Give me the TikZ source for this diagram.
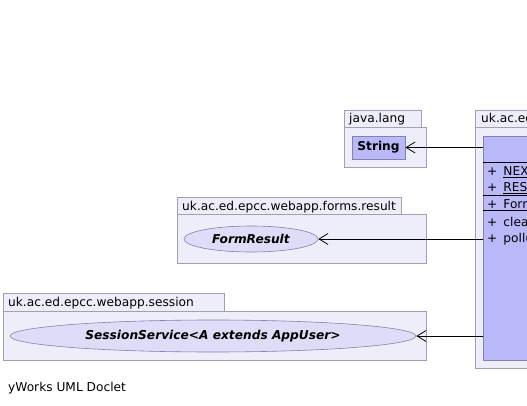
\documentclass[tikz,border=0pt]{standalone}
\usepackage{fontspec}
\setmainfont{DejaVu Sans}
\usetikzlibrary{arrows.meta,shapes.geometric}
\definecolor{pkgfill}{RGB}{238,238,250}
\definecolor{pkgline}{RGB}{160,160,178}
\definecolor{clsfill}{RGB}{185,185,250}
\definecolor{clsline}{RGB}{130,130,170}
\definecolor{ellfill}{RGB}{221,221,248}
\tikzset{
  pkg/.style={draw=pkgline, fill=pkgfill, line width=0.8pt},
  pkglabel/.style={anchor=base west, inner sep=0pt, font=\fontsize{12.2}{14}\selectfont},
  clsbox/.style={draw=clsline, fill=clsfill, line width=0.8pt, rectangle, inner sep=0pt},
  ellbox/.style={draw=clsline, fill=ellfill, line width=0.6pt, ellipse, inner sep=0pt, font=\fontsize{12.2}{14}\selectfont\bfseries\itshape},
  member/.style={anchor=base west, inner sep=0pt, font=\fontsize{12.2}{14}\selectfont},
  sep/.style={draw=black, line width=0.8pt},
  dep/.style={draw=black, line width=0.8pt, -{Straight Barb[length=9pt,width=11pt,line width=0.8pt]}}
}
\begin{document}
\begin{tikzpicture}[x=1pt,y=-1pt]
\useasboundingbox (0,0) rectangle (527,406);
\clip (0,0) rectangle (527,406);
% java.lang package
\draw[pkg] (344,110) rectangle (421,127);
\draw[pkg] (344,127) rectangle (426,167);
\node[pkglabel] (lbljl) at (349,123) {java.lang};
\node[clsbox, minimum width=53pt, minimum height=23pt, font=\fontsize{12.2}{14}\selectfont\bfseries] (str) at (378.5,147.5) {String};
% forms.result package
\draw[pkg] (177,197) rectangle (401,214);
\draw[pkg] (177,214) rectangle (426,263);
\node[pkglabel] (lblfr) at (182,210) {uk.ac.ed.epcc.webapp.forms.result};
\node[ellbox, minimum width=134pt, minimum height=26pt] (fr) at (251,239) {FormResult};
% session package
\draw[pkg] (3,293) rectangle (224,311);
\draw[pkg] (3,311) rectangle (426,360);
\node[pkglabel] (lblss) at (8,306) {uk.ac.ed.epcc.webapp.session};
\node[ellbox, minimum width=406pt, minimum height=32pt] (ss) at (213,336) {SessionService<A extends AppUser>};
% right package
\draw[pkg] (475,110) rectangle (600,127);
\draw[pkg] (475,127) rectangle (600,368);
\node[pkglabel] (lblr) at (481,123) {uk.ac.ed.epcc.webapp.forms.transition};
\node[clsbox, minimum width=120pt, minimum height=224pt, anchor=north west] (cls) at (483,136) {};
\draw[sep] (483,162) -- (600,162);
\draw[sep, line width=1pt] (483,196) -- (600,196);
\draw[sep] (483,210) -- (600,210);
\node[member] (m1) at (487,176) {+\hspace{6pt}\underline{NEX}};
\node[member] (m2) at (487,191.5) {+\hspace{6pt}\underline{RES}};
\node[member] (m3) at (487,208.5) {+\hspace{6pt}Form};
\node[member] (m4) at (487,226) {+\hspace{6pt}clea};
\node[member] (m5) at (487,242) {+\hspace{6pt}poll(};
% dependencies
\draw[dep] (cls.west |- str.east) -- (str.east);
\draw[dep] (cls.west |- fr.east) -- (fr.east);
\draw[dep] (cls.west |- ss.east) -- (ss.east);
% footer
\node[pkglabel] (foot) at (8,391) {yWorks UML Doclet};
\end{tikzpicture}
\end{document}
